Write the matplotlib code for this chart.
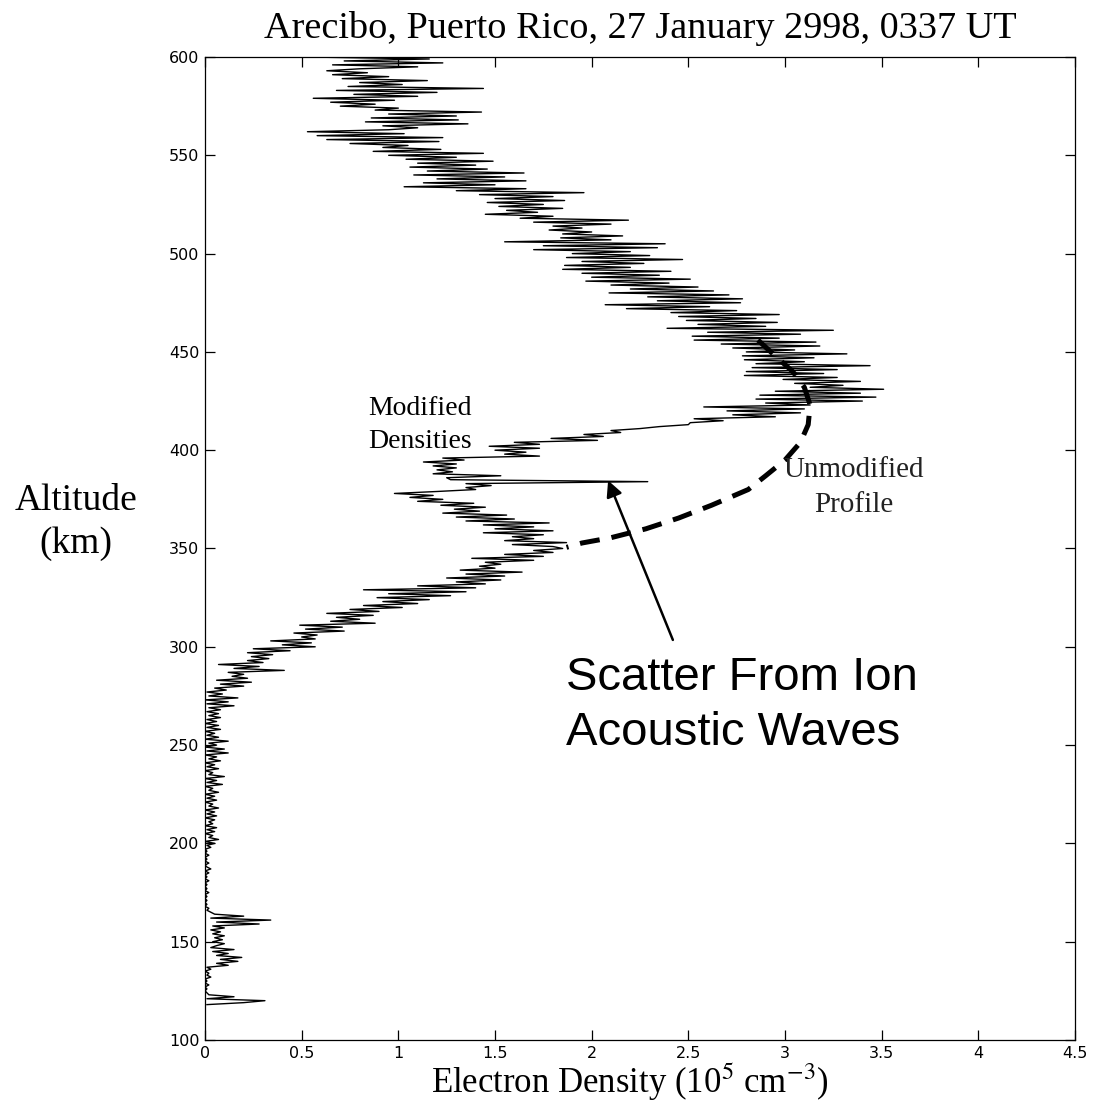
import numpy as np
import matplotlib.pyplot as plt

plt.rcParams['mathtext.fontset'] = 'stix'

# electron density (10^5 cm^-3), one value per 1 km gate from 600 km down to 118 km
density = [
    0.53, 1.16, 0.72, 1.23, 0.66, 1.10, 0.80, 0.63, 0.84, 0.66,  # 600
    0.95, 0.71, 1.15, 0.80, 1.02, 0.74, 1.44, 0.68, 1.20, 0.77,  # 590
    1.10, 0.56, 0.98, 0.65, 0.88, 0.70, 1.00, 0.88, 1.43, 0.95,  # 580
    1.30, 0.86, 1.31, 0.83, 1.36, 0.92, 1.10, 0.95, 0.53, 1.03,  # 570
    0.58, 1.23, 0.63, 1.21, 0.75, 1.05, 0.92, 1.22, 0.87, 1.44,  # 560
    0.95, 1.30, 1.04, 1.49, 1.10, 1.40, 1.06, 1.46, 1.15, 1.65,  # 550
    1.08, 1.55, 1.20, 1.66, 1.13, 1.50, 1.03, 1.66, 1.30, 1.96,  # 540
    1.42, 1.80, 1.50, 1.86, 1.46, 1.75, 1.52, 1.85, 1.56, 1.72,  # 530
    1.45, 1.80, 1.63, 2.19, 1.70, 2.10, 1.80, 1.95, 1.78, 2.00,  # 520
    1.85, 2.16, 1.84, 2.10, 1.55, 2.38, 1.75, 2.34, 1.70, 2.20,  # 510
    1.90, 2.30, 1.87, 2.47, 1.95, 2.27, 1.86, 2.20, 1.85, 2.41,  # 500
    1.95, 2.35, 2.00, 2.51, 1.97, 2.40, 2.10, 2.55, 2.20, 2.63,  # 490
    2.09, 2.71, 2.29, 2.78, 2.34, 2.77, 2.07, 2.61, 2.18, 2.75,  # 480
    2.41, 2.97, 2.45, 2.85, 2.49, 2.96, 2.55, 2.90, 2.39, 3.25,  # 470
    2.60, 3.08, 2.52, 2.97, 2.53, 3.16, 2.67, 3.18, 2.73, 3.05,  # 460
    2.80, 3.32, 2.78, 3.15, 2.79, 3.10, 2.85, 3.44, 2.83, 3.27,  # 450
    2.80, 3.20, 2.79, 3.27, 2.99, 3.39, 3.05, 3.30, 3.13, 3.51,  # 440
    2.95, 3.39, 2.87, 3.47, 2.85, 3.40, 2.90, 3.13, 2.58, 3.10,  # 430
    2.70, 3.08, 2.73, 2.95, 2.53, 2.68, 2.51, 2.50, 2.35, 2.25,  # 420
    2.10, 2.15, 1.96, 2.06, 1.79, 2.03, 1.60, 1.73, 1.47, 1.73,  # 410
    1.50, 1.66, 1.55, 1.73, 1.23, 1.34, 1.13, 1.30, 1.18, 1.30,  # 400
    1.20, 1.28, 1.18, 1.53, 1.25, 1.27, 2.29, 1.35, 1.48, 1.35,  # 390
    1.40, 1.20, 0.98, 1.18, 1.06, 1.23, 1.10, 1.39, 1.22, 1.45,  # 380
    1.29, 1.42, 1.23, 1.56, 1.30, 1.60, 1.35, 1.78, 1.44, 1.70,  # 370
    1.50, 1.80, 1.44, 1.75, 1.59, 1.70, 1.55, 1.87, 1.59, 1.80,  # 360
    1.85, 1.70, 1.80, 1.55, 1.75, 1.38, 1.70, 1.45, 1.53, 1.42,  # 350
    1.50, 1.32, 1.64, 1.35, 1.55, 1.25, 1.53, 1.30, 1.45, 1.10,  # 340
    1.40, 0.82, 1.35, 0.95, 1.27, 0.89, 1.16, 0.92, 1.10, 0.82,  # 330
    1.02, 0.75, 0.90, 0.63, 0.87, 0.68, 0.80, 0.65, 0.88, 0.49,  # 320
    0.71, 0.52, 0.72, 0.46, 0.58, 0.50, 0.57, 0.34, 0.55, 0.40,  # 310
    0.57, 0.25, 0.44, 0.22, 0.35, 0.24, 0.33, 0.22, 0.30, 0.07,  # 300
    0.28, 0.15, 0.41, 0.12, 0.20, 0.14, 0.22, 0.06, 0.24, 0.08,  # 290
    0.20, 0.05, 0.11, 0.01, 0.09, 0.02, 0.17, 0.00, 0.12, 0.01,  # 280
    0.15, 0.02, 0.08, 0.01, 0.07, 0.02, 0.08, 0.01, 0.06, 0.00,  # 270
    0.07, 0.01, 0.08, 0.00, 0.05, 0.01, 0.07, 0.00, 0.12, 0.02,  # 260
    0.06, 0.00, 0.10, 0.01, 0.12, 0.00, 0.06, 0.02, 0.08, 0.00,  # 250
    0.05, 0.01, 0.07, 0.00, 0.04, 0.02, 0.10, 0.00, 0.06, 0.01,  # 240
    0.09, 0.00, 0.04, 0.02, 0.07, 0.00, 0.05, 0.01, 0.06, 0.00,  # 230
    0.04, 0.02, 0.07, 0.00, 0.05, 0.01, 0.06, 0.00, 0.05, 0.02,  # 220
    0.04, 0.00, 0.06, 0.01, 0.05, 0.00, 0.04, 0.02, 0.07, 0.00,  # 210
    0.05, 0.01, 0.03, 0.00, 0.01, 0.00, 0.02, 0.00, 0.01, 0.00,  # 200
    0.02, 0.00, 0.01, 0.03, 0.00, 0.02, 0.00, 0.01, 0.00, 0.02,  # 190
    0.00, 0.01, 0.00, 0.01, 0.00, 0.02, 0.00, 0.01, 0.00, 0.01,  # 180
    0.00, 0.01, 0.00, 0.02, 0.01, 0.03, 0.05, 0.20, 0.03, 0.34,  # 170
    0.06, 0.28, 0.04, 0.10, 0.03, 0.08, 0.04, 0.10, 0.05, 0.09,  # 160
    0.04, 0.10, 0.06, 0.03, 0.15, 0.04, 0.12, 0.06, 0.19, 0.08,  # 150
    0.17, 0.06, 0.12, 0.01, 0.03, 0.00, 0.02, 0.01, 0.03, 0.00,  # 140
    0.01, 0.00, 0.02, 0.00, 0.01, 0.00, 0.01, 0.02, 0.15, 0.01,  # 130
    0.31, 0.20, 0.01,                                            # 120
]
altitude = np.arange(600, 600 - len(density), -1)

# sketched unmodified profile through the modified region
unmod_density = [2.86, 2.96, 3.04, 3.10, 3.13, 3.12, 3.08, 3.00, 2.90, 2.81,
                 2.62, 2.45, 2.28, 2.10, 1.95, 1.87]
unmod_altitude = [456, 447, 440, 432, 423, 413, 404, 395, 387, 380,
                  372, 365.5, 360, 355.5, 352.8, 350.6]

xticks = [0, 0.5, 1, 1.5, 2, 2.5, 3, 3.5, 4, 4.5]
xticklabels = ['0', '0.5', '1', '1.5', '2', '2.5', '3', '3.5', '4', '4.5']
yticks = [100, 150, 200, 250, 300, 350, 400, 450, 500, 550, 600]

W, H = 1095, 1106
fig = plt.figure(figsize=(W / 100, H / 100), dpi=100)
ax = fig.add_axes([205 / W, 1 - 1040 / H, 870 / W, 983 / H])

ax.plot(density, altitude, color='black', lw=1.0)
ax.plot(unmod_density, unmod_altitude, color='black', lw=3.6,
        linestyle=(0, (4, 2.4)))

ax.set_xlim(0, 4.5)
ax.set_ylim(100, 600)
ax.set_xticks(xticks)
ax.set_xticklabels(xticklabels)
ax.set_yticks(yticks)
ax.tick_params(direction='in', length=7, width=0.9, top=True, right=True,
               labelsize=11.5, pad=4, colors='black')
for sp in ax.spines.values():
    sp.set_linewidth(0.9)

serif = 'Liberation Serif'
ax.text(1.112, 417.9, 'Modified', family=serif, fontsize=20, ha='center')
ax.text(1.112, 401.1, 'Densities', family=serif, fontsize=20, ha='center')
ax.text(3.357, 386.4, 'Unmodified', family=serif, fontsize=21, ha='center',
        color='#222222')
ax.text(3.357, 368.6, 'Profile', family=serif, fontsize=21, ha='center',
        color='#222222')

ax.annotate('', xy=(2.085, 384.6), xytext=(2.42, 303.5),
            arrowprops=dict(arrowstyle='-|>', lw=1.8, color='black',
                            mutation_scale=24, shrinkA=0, shrinkB=0))
ax.text(1.868, 278.0, 'Scatter From Ion', family='Liberation Sans',
        fontsize=34, ha='left', va='baseline')
ax.text(1.868, 250.0, 'Acoustic Waves', family='Liberation Sans',
        fontsize=34, ha='left', va='baseline')

fig.text(640 / W, 1 - 38 / H, 'Arecibo, Puerto Rico, 27 January 2998, 0337 UT',
         family=serif, fontsize=27.5, ha='center', va='baseline')
fig.text(76 / W, 1 - 510 / H, 'Altitude', family=serif, fontsize=27,
         ha='center', va='baseline')
fig.text(76 / W, 1 - 553 / H, '(km)', family=serif, fontsize=27,
         ha='center', va='baseline')
fig.text(630 / W, 1 - 1093 / H, r'Electron Density (10$^{5}$ cm$^{-3}$)',
         family=serif, fontsize=25, ha='center', va='baseline')

fig.savefig('out.png', dpi=100)
